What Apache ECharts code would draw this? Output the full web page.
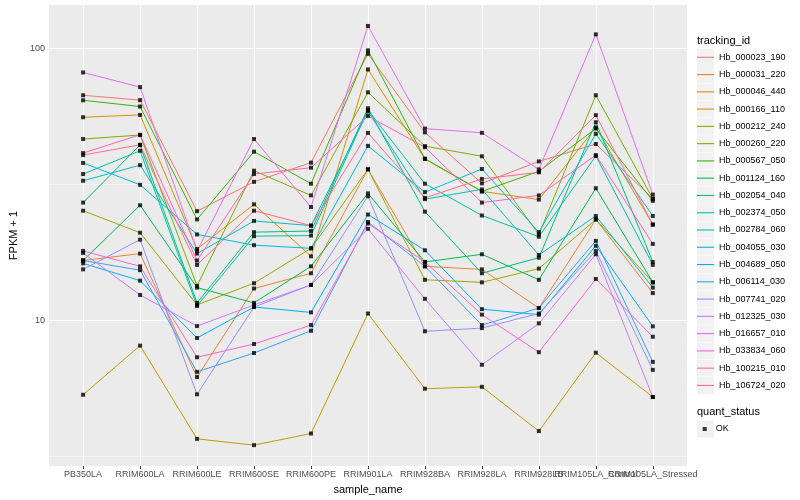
<!DOCTYPE html>
<html><head><meta charset="utf-8">
<script src="https://cdn.jsdelivr.net/npm/echarts@6/dist/echarts.min.js"></script>
<style>html,body{margin:0;padding:0;background:#fff}#c{width:800px;height:500px}</style>
</head><body><div id="c"></div>
<script>
// ---- data (FPKM + 1) ----
const categories = ["PB350LA","RRIM600LA","RRIM600LE","RRIM600SE","RRIM600PE","RRIM901LA","RRIM928BA","RRIM928LA","RRIM928LB","RRIM105LA_Control","RRIM105LA_Stressed"];
const trackingIds = ["Hb_000023_190","Hb_000031_220","Hb_000046_440","Hb_000166_110","Hb_000212_240","Hb_000260_220","Hb_000567_050","Hb_001124_160","Hb_002054_040","Hb_002374_050","Hb_002784_060","Hb_004055_030","Hb_004689_050","Hb_006114_030","Hb_007741_020","Hb_012325_030","Hb_016657_010","Hb_033834_060","Hb_100215_010","Hb_106724_020"];
const hb_000023_190 = [67.2, 64.5, 25.2, 32.3, 38.0, 95.4, 49.1, 31.9, 38.4, 44.5, 28.0];
const hb_000031_220 = [16.6, 17.6, 6.19, 13.1, 14.9, 35.9, 15.8, 15.4, 11.1, 23.5, 12.6];
const hb_000046_440 = [55.8, 56.9, 18.3, 26.7, 17.2, 83.6, 39.2, 29.8, 27.8, 51.2, 22.5];
const hb_000166_110 = [5.33, 8.08, 3.67, 3.48, 3.84, 10.6, 5.61, 5.70, 3.92, 7.61, 5.23];
const hb_000212_240 = [25.3, 21.0, 11.4, 13.7, 18.4, 35.9, 14.1, 13.8, 15.5, 23.5, 13.8];
const hb_000260_220 = [46.4, 48.0, 13.4, 35.5, 28.8, 68.9, 43.7, 40.1, 20.7, 67.2, 28.0];
const hb_000567_050 = [64.4, 61.1, 23.5, 41.7, 31.8, 98.3, 39.3, 29.8, 35.3, 50.7, 27.5];
const hb_001124_160 = [16.6, 26.5, 13.2, 11.6, 15.8, 29.3, 16.4, 17.5, 14.1, 30.6, 13.8];
const hb_002054_040 = [27.1, 44.1, 11.6, 21.1, 21.3, 60.2, 25.1, 14.9, 17.0, 53.5, 16.4];
const hb_002374_050 = [34.5, 42.0, 11.3, 20.4, 20.5, 59.3, 31.8, 24.3, 20.3, 40.2, 16.0];
const hb_002784_060 = [32.6, 37.2, 17.6, 23.2, 22.3, 58.6, 27.9, 30.3, 17.4, 24.2, 13.2];
const hb_004055_030 = [37.9, 31.5, 20.7, 18.9, 18.4, 43.8, 29.6, 36.0, 21.1, 48.5, 24.2];
const hb_004689_050 = [16.2, 14.0, 8.62, 11.2, 10.7, 24.5, 18.1, 11.0, 10.5, 18.8, 9.51];
const hb_006114_030 = [16.6, 15.3, 6.47, 7.59, 9.16, 23.0, 15.8, 9.61, 11.1, 19.6, 7.04];
const hb_007741_020 = [15.4, 19.8, 5.35, 11.2, 13.5, 28.6, 9.12, 9.37, 10.6, 18.0, 6.58];
const hb_012325_030 = [17.7, 12.4, 9.53, 11.4, 13.5, 21.7, 12.0, 6.87, 9.75, 17.5, 5.23];
const hb_016657_010 = [81.5, 72.0, 18.0, 46.4, 26.1, 120.8, 50.7, 48.9, 35.9, 112.5, 29.0];
const hb_033834_060 = [18.0, 15.8, 7.32, 8.19, 9.61, 22.7, 16.4, 10.5, 7.64, 14.2, 8.71];
const hb_100215_010 = [41.2, 48.1, 16.6, 34.5, 36.4, 56.4, 43.3, 27.1, 28.8, 40.5, 19.1];
const hb_106724_020 = [40.5, 44.2, 16.0, 25.3, 22.3, 48.9, 28.2, 33.1, 35.0, 56.8, 22.5];
const yMajorTicks = [10, 100];
const yMinorTicks = [3.1623, 31.623];
const quantStatus = ["OK"];

const seriesValues = [hb_000023_190,hb_000031_220,hb_000046_440,hb_000166_110,hb_000212_240,hb_000260_220,hb_000567_050,hb_001124_160,hb_002054_040,hb_002374_050,hb_002784_060,hb_004055_030,hb_004689_050,hb_006114_030,hb_007741_020,hb_012325_030,hb_016657_010,hb_033834_060,hb_100215_010,hb_106724_020];
const colors = ["#F8766D","#EA8331","#D89000","#C09B00","#A3A500","#7CAE00","#39B600","#00BB4E","#00BF7D","#00C1A3","#00BFC4","#00BAE0","#00B0F6","#35A2FF","#9590FF","#C77CFF","#E76BF3","#FA62DB","#FF62BC","#FF6C91"];

const FONT = 'Liberation Sans, Arial, Helvetica, sans-serif';
const lg = v => Math.log10(v);

// ggplot-like 5% expansion on the log scale
let lo = Infinity, hi = -Infinity;
seriesValues.forEach(a => a.forEach(v => { lo = Math.min(lo, lg(v)); hi = Math.max(hi, lg(v)); }));
const pad = (hi - lo) * 0.05;
const yMin = lo - pad, yMax = hi + pad;
const xIdx = categories.map((c, i) => i);
const xMin = -0.6, xMax = categories.length - 1 + 0.6;
// labels split over two overlaid axes so that overlapping labels are all kept
const xEven = xIdx.filter(i => i % 2 === 0);
const xOdd = xIdx.filter(i => i % 2 === 1);

const lineSeries = trackingIds.map((id, k) => ({
  type: 'line', name: id, z: 2, silent: true, symbol: 'none',
  data: seriesValues[k].map((v, i) => [i, lg(v)]),
  lineStyle: { width: 1, color: colors[k] }, itemStyle: { color: colors[k] }
}));
const pointData = [];
seriesValues.forEach(a => a.forEach((v, i) => pointData.push([i, lg(v)])));

const gridLines = [];
yMinorTicks.forEach(v => gridLines.push({ yAxis: lg(v), lineStyle: { width: 0.5 } }));
yMajorTicks.forEach(v => gridLines.push({ yAxis: lg(v), lineStyle: { width: 1.1 } }));
xIdx.forEach(i => gridLines.push({ xAxis: i, lineStyle: { width: 1.1 } }));

// legend key backgrounds
const keyTop = 48.8, keyStep = 17.27;
const graphics = [];
trackingIds.forEach((id, k) => graphics.push({ type: 'rect', z: 0, shape: { x: 697, y: keyTop + k * keyStep, width: 17, height: 17 }, style: { fill: '#F2F2F2' }, silent: true }));
graphics.push({ type: 'rect', z: 0, shape: { x: 697, y: 420.5, width: 17, height: 17 }, style: { fill: '#F2F2F2' }, silent: true });
graphics.push({ type: 'text', x: 697, y: 40.7, style: { text: 'tracking_id', fontSize: 11, fontFamily: FONT, fill: '#000', verticalAlign: 'middle', align: 'left' }, silent: true });
graphics.push({ type: 'text', x: 697, y: 412.4, style: { text: 'quant_status', fontSize: 11, fontFamily: FONT, fill: '#000', verticalAlign: 'middle', align: 'left' }, silent: true });

const labelStyle = { formatter: v => categories[Math.round(v)], fontSize: 9, color: '#4D4D4D', margin: 4, fontFamily: FONT, hideOverlap: false, showMinLabel: true, showMaxLabel: true };

const chart = echarts.init(document.getElementById('c'), null, { renderer: 'canvas' });
chart.setOption({
  animation: false,
  backgroundColor: '#fff',
  textStyle: { fontFamily: FONT },
  grid: { left: 40, right: 113, top: 5, bottom: 32, show: true, backgroundColor: '#EBEBEB', borderWidth: 0 },
  xAxis: [{
    type: 'value', min: xMin, max: xMax, position: 'bottom',
    name: 'sample_name', nameLocation: 'middle', nameGap: 15,
    nameTextStyle: { fontSize: 11, color: '#000', fontFamily: FONT },
    axisLine: { show: false }, splitLine: { show: false },
    axisTick: { show: true, customValues: xIdx, length: 3, lineStyle: { color: '#333333', width: 1 } },
    axisLabel: Object.assign({ customValues: xEven }, labelStyle)
  }, {
    type: 'value', min: xMin, max: xMax, position: 'bottom', offset: 0,
    axisLine: { show: false }, splitLine: { show: false }, axisTick: { show: false },
    axisLabel: Object.assign({ customValues: xOdd }, labelStyle)
  }],
  yAxis: {
    type: 'value', min: yMin, max: yMax,
    name: 'FPKM + 1', nameLocation: 'middle', nameGap: 24, nameRotate: 90,
    nameTextStyle: { fontSize: 11, color: '#000', fontFamily: FONT },
    axisLine: { show: false }, splitLine: { show: false },
    axisTick: { show: true, customValues: yMajorTicks.map(lg), length: 3, lineStyle: { color: '#333333', width: 1 } },
    axisLabel: { customValues: yMajorTicks.map(lg), formatter: v => String(Math.round(Math.pow(10, v))), fontSize: 9, color: '#4D4D4D', margin: 4, fontFamily: FONT, showMinLabel: true, showMaxLabel: true }
  },
  legend: [
    { data: trackingIds, orient: 'vertical', left: 697, top: keyTop, itemWidth: 17, itemHeight: 17, itemGap: keyStep - 17, padding: 0, z: 5,
      icon: 'path://M0,0 L17,0 L17,1.1 L0,1.1 Z', selectedMode: false,
      textStyle: { fontSize: 9, color: '#000', fontFamily: FONT, lineHeight: 17, height: 17, verticalAlign: 'middle' } },
    { data: quantStatus, orient: 'vertical', left: 702.7, top: 420.5, itemWidth: 4, itemHeight: 4, padding: 0, selectedMode: false, z: 5,
      textStyle: { fontSize: 9, color: '#000', fontFamily: FONT, lineHeight: 17, height: 17, verticalAlign: 'middle', padding: [0, 0, 0, 4] } }
  ],
  graphic: graphics,
  series: [
    { type: 'scatter', name: '_grid', data: [], z: 1, silent: true,
      markLine: { silent: true, z: 1, symbol: ['none', 'none'], label: { show: false }, animation: false,
        lineStyle: { color: '#FFFFFF', type: 'solid' }, emphasis: { disabled: true }, data: gridLines } },
    ...lineSeries,
    { type: 'scatter', name: 'OK', data: pointData, symbol: 'rect', symbolSize: 4, z: 3, silent: true, itemStyle: { color: '#000' } }
  ]
});
</script></body></html>
